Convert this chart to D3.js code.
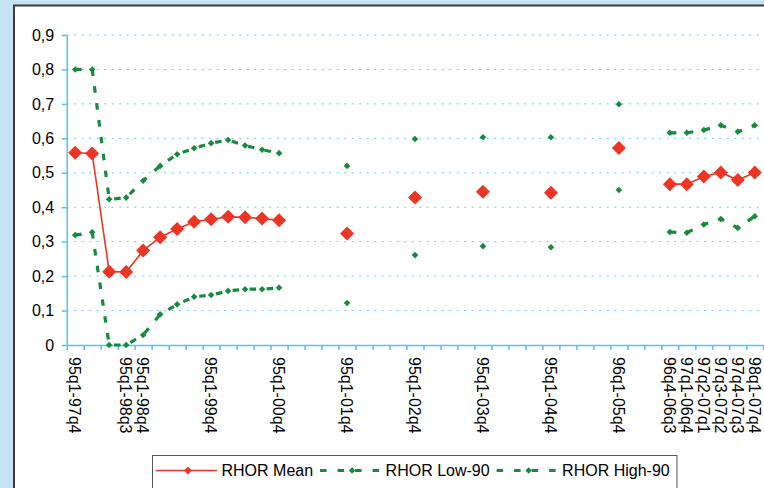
<!DOCTYPE html>
<html>
<head>
<meta charset="utf-8">
<script src="https://cdn.jsdelivr.net/npm/d3@7/dist/d3.min.js"></script>
<style>
  html, body { margin: 0; padding: 0; background: #c5e3f3; }
  svg { display: block; }
  text { font-family: "Liberation Sans", Arial, sans-serif; fill: #000; }
</style>
</head>
<body>
<svg id="chart" width="764" height="488"></svg>
<script>
// Rolling estimation windows (blank entries are unlabeled categories)
const categories = [
  "95q1-97q4", "", "", "95q1-98q3", "95q1-98q4", "", "", "", "95q1-99q4", "", "", "", "95q1-00q4",
  "", "", "", "95q1-01q4", "", "", "", "95q1-02q4", "", "", "", "95q1-03q4", "", "", "", "95q1-04q4",
  "", "", "", "96q1-05q4", "", "", "96q4-06q3", "97q1-06q4", "97q2-07q1", "97q3-07q2", "97q4-07q3", "98q1-07q4"
];

const rhorMean = [
  0.558, 0.556, 0.213, 0.212, 0.274, 0.313, 0.337, 0.358, 0.365, 0.372, 0.371, 0.367, 0.362,
  null, null, null, 0.324, null, null, null, 0.428, null, null, null, 0.445, null, null, null, 0.442,
  null, null, null, 0.572, null, null, 0.467, 0.467, 0.489, 0.501, 0.479, 0.501
];

const rhorLow = [
  0.319, 0.327, 0.0, 0.0, 0.029, 0.089, 0.118, 0.140, 0.145, 0.157, 0.162, 0.162, 0.166,
  null, null, null, 0.122, null, null, null, 0.261, null, null, null, 0.287, null, null, null, 0.284,
  null, null, null, 0.450, null, null, 0.328, 0.326, 0.350, 0.366, 0.340, 0.374
];

const rhorHigh = [
  0.800, 0.800, 0.423, 0.428, 0.477, 0.520, 0.554, 0.571, 0.586, 0.595, 0.579, 0.567, 0.557,
  null, null, null, 0.520, null, null, null, 0.598, null, null, null, 0.603, null, null, null, 0.603,
  null, null, null, 0.699, null, null, 0.616, 0.616, 0.624, 0.638, 0.619, 0.638
];

const yTicks = [0, 0.1, 0.2, 0.3, 0.4, 0.5, 0.6, 0.7, 0.8, 0.9];

const seriesNames = ["RHOR Mean", "RHOR Low-90", "RHOR High-90"];

const RED = "#ee3524";
const GREEN = "#168a3e";
const AXIS = "#55c3ec";
const GRID = "#66ccee";

const svg = d3.select("#chart");

// chart frame
svg.append("rect")
  .attr("x", 14).attr("y", 5.5)
  .attr("width", 800).attr("height", 520)
  .attr("fill", "#fff")
  .attr("stroke", "#3c3c3c").attr("stroke-width", 2);

const plot = { left: 66.7, right: 763.3, top: 35, bottom: 345 };

const xIdx = d3.scaleLinear().domain([0, categories.length]).range([plot.left, plot.right]);
const xc = i => xIdx(i + 0.5);
const y = d3.scaleLinear().domain([0, 0.9]).range([plot.bottom, plot.top]);

const fmt = d3.formatLocale({ decimal: ",", thousands: ".", grouping: [3], currency: ["", ""] }).format(".1f");

// horizontal gridlines
svg.append("g")
  .selectAll("line")
  .data(yTicks.filter(t => t > 0))
  .join("line")
  .attr("x1", plot.left).attr("x2", plot.right)
  .attr("y1", d => y(d)).attr("y2", d => y(d))
  .attr("stroke", GRID).attr("stroke-width", 1)
  .attr("stroke-dasharray", "2,5.5");

// y axis
const yAxis = svg.append("g")
  .attr("transform", `translate(${plot.left},0)`)
  .call(d3.axisLeft(y).tickValues(yTicks).tickSize(5).tickSizeOuter(0).tickPadding(7.5)
    .tickFormat(d => d === 0 ? "0" : fmt(d)));
yAxis.select(".domain").attr("stroke", AXIS).attr("stroke-width", 1.5);
yAxis.selectAll(".tick line").attr("stroke", AXIS).attr("stroke-width", 1.5);
yAxis.selectAll(".tick text").attr("font-size", 16).attr("fill", "#000")
  .style("font-family", "'Liberation Sans', Arial, sans-serif");

// x axis: ticks at category boundaries
const xAxis = svg.append("g")
  .attr("transform", `translate(0,${plot.bottom})`)
  .call(d3.axisBottom(xIdx).tickValues(d3.range(categories.length + 1)).tickSize(5).tickSizeOuter(0).tickFormat(""));
xAxis.select(".domain").attr("stroke", AXIS).attr("stroke-width", 1.5);
xAxis.selectAll(".tick line").attr("stroke", AXIS).attr("stroke-width", 1.5);

// category labels, rotated to read downward
svg.append("g")
  .selectAll("text")
  .data(categories.map((c, i) => ({ c, i })).filter(d => d.c !== ""))
  .join("text")
  .attr("transform", d => `translate(${xc(d.i)},${plot.bottom + 12}) rotate(90)`)
  .attr("dy", "0.36em")
  .attr("font-size", 16)
  .text(d => d.c);

const diamond = r => `M0,${-r}L${r},0L0,${r}L${-r},0Z`;

const lineGen = d3.line()
  .defined(d => d.v !== null)
  .x(d => xc(d.i))
  .y(d => y(d.v));

const toPts = arr => arr.map((v, i) => ({ v, i }));

// confidence bands (dashed)
[rhorLow, rhorHigh].forEach(arr => {
  const pts = toPts(arr);
  svg.append("path")
    .datum(pts)
    .attr("d", lineGen)
    .attr("fill", "none")
    .attr("stroke", GREEN)
    .attr("stroke-width", 3.2)
    .attr("stroke-dasharray", "6.5,10.5");
  svg.append("g")
    .selectAll("path")
    .data(pts.filter(d => d.v !== null))
    .join("path")
    .attr("transform", d => `translate(${xc(d.i)},${y(d.v)})`)
    .attr("d", diamond(3.3))
    .attr("fill", GREEN);
});

// mean estimate
const meanPts = toPts(rhorMean);
svg.append("path")
  .datum(meanPts)
  .attr("d", lineGen)
  .attr("fill", "none")
  .attr("stroke", RED)
  .attr("stroke-width", 1.6);
svg.append("g")
  .selectAll("path")
  .data(meanPts.filter(d => d.v !== null))
  .join("path")
  .attr("transform", d => `translate(${xc(d.i)},${y(d.v)})`)
  .attr("d", diamond(7))
  .attr("fill", RED);

// legend
const legend = svg.append("g");
legend.append("rect")
  .attr("x", 152.5).attr("y", 455.5)
  .attr("width", 524.5).attr("height", 40)
  .attr("fill", "#fff").attr("stroke", "#555").attr("stroke-width", 1);

const legY = 470.5;
let lx = 156;
seriesNames.forEach((name, k) => {
  const isMean = k === 0;
  const g = legend.append("g");
  g.append("line")
    .attr("x1", lx).attr("x2", lx + 61)
    .attr("y1", legY).attr("y2", legY)
    .attr("stroke", isMean ? RED : GREEN)
    .attr("stroke-width", isMean ? 1.6 : 3.2)
    .attr("stroke-dasharray", isMean ? null : "6.5,11");
  g.append("path")
    .attr("transform", `translate(${lx + 32},${legY})`)
    .attr("d", diamond(isMean ? 4 : 3.2))
    .attr("fill", isMean ? RED : GREEN);
  const t = g.append("text")
    .attr("x", lx + 65.5)
    .attr("y", legY)
    .attr("dy", "0.35em")
    .attr("font-size", 16)
    .text(name);
  lx = lx + 65.5 + t.node().getComputedTextLength() + 7;
});
</script>
</body>
</html>
